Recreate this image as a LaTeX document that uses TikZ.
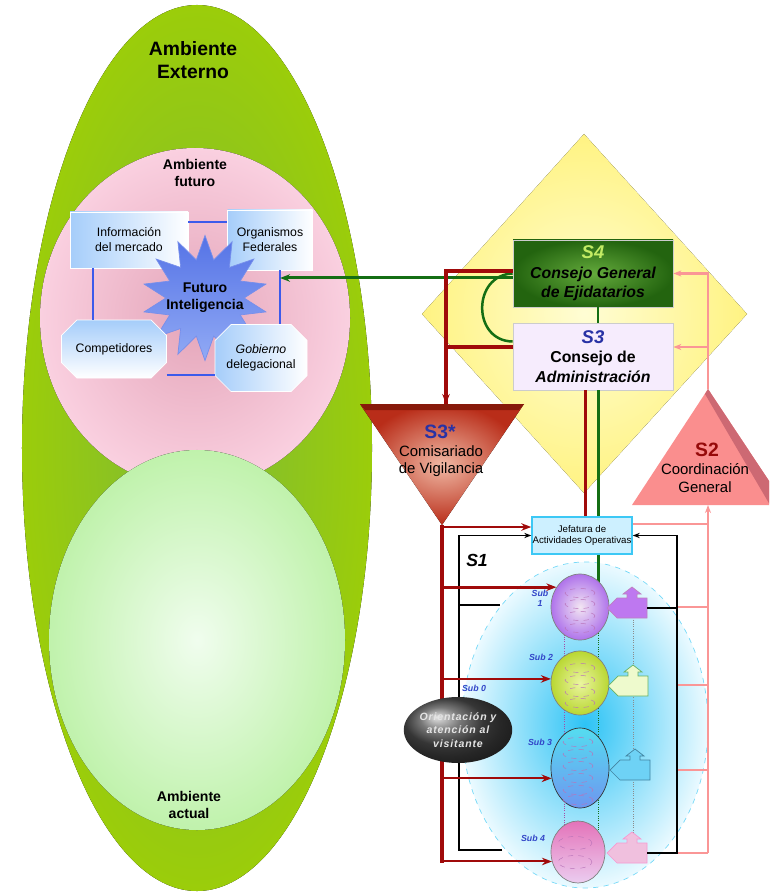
\documentclass[tikz,border=0pt]{standalone}
\usepackage{fontspec}
\setmainfont{Liberation Sans}
\usepackage{xcolor}
\usetikzlibrary{arrows.meta, positioning, shapes.geometric, shapes.misc, calc}

\definecolor{eggouter}{RGB}{155,205,10}
\definecolor{egginner}{RGB}{125,185,55}
\definecolor{futpink}{RGB}{250,208,224}
\definecolor{futrose}{RGB}{228,165,185}
\definecolor{actgreen}{RGB}{192,242,172}
\definecolor{actlight}{RGB}{240,253,238}
\definecolor{boxblue}{RGB}{165,205,250}
\definecolor{starblue}{RGB}{85,115,230}
\definecolor{starlight}{RGB}{145,170,245}
\definecolor{linkblue}{RGB}{60,90,235}
\definecolor{diayellow}{RGB}{255,243,130}
\definecolor{dialight}{RGB}{255,253,212}
\definecolor{sfourdark}{RGB}{35,100,15}
\definecolor{sfourlight}{RGB}{100,170,60}
\definecolor{sfourlabel}{RGB}{195,235,100}
\definecolor{sthreelav}{RGB}{208,140,242}
\definecolor{sthreelight}{RGB}{246,236,253}
\definecolor{sysblue}{RGB}{40,50,165}
\definecolor{redline}{RGB}{160,10,10}
\definecolor{greenline}{RGB}{20,110,20}
\definecolor{pinkline}{RGB}{250,150,150}
\definecolor{comred}{RGB}{185,45,25}
\definecolor{comlight}{RGB}{240,185,165}
\definecolor{comtop}{RGB}{135,25,10}
\definecolor{coordpink}{RGB}{250,142,142}
\definecolor{coorddark}{RGB}{205,105,115}
\definecolor{coordred}{RGB}{150,10,10}
\definecolor{jefcyan}{RGB}{205,240,255}
\definecolor{jefborder}{RGB}{60,200,245}
\definecolor{opcyan}{RGB}{45,195,245}
\definecolor{oplight}{RGB}{235,250,255}
\definecolor{subblue}{RGB}{50,70,200}

\begin{document}
\begin{tikzpicture}[
  x=0.2mm, y=-0.2mm,
  envtitle/.style={font=\bfseries\fontsize{11}{13}\selectfont, align=center},
  envlabel/.style={font=\bfseries\fontsize{8}{9.5}\selectfont, align=center},
  envbox/.style={left color=boxblue, right color=white, draw=white, inner sep=1pt, align=center, font=\fontsize{7}{8.5}\selectfont},
  envcut/.style={envbox, chamfered rectangle, chamfered rectangle xsep=1.6mm, chamfered rectangle ysep=1.6mm},
  bluelink/.style={draw=linkblue, line width=0.45mm},
  sysbox/.style={draw=black!20, minimum width=32mm, minimum height=13.4mm, inner sep=1pt, align=center, font=\bfseries\fontsize{9}{11}\selectfont},
  systext/.style={align=center, font=\fontsize{8.5}{10}\selectfont},
  sysname/.style={font=\bfseries\fontsize{11}{13}\selectfont},
  redthick/.style={draw=redline, line width=0.8mm},
  redarrow/.style={draw=redline, line width=0.55mm, -{Stealth[length=2mm]}},
  greenarrow/.style={draw=greenline, line width=0.6mm, -{Stealth[length=2mm]}},
  pinkarrow/.style={draw=pinkline, line width=0.5mm, -{Stealth[length=1.6mm]}},
  pinkline/.style={draw=pinkline, line width=0.5mm},
  blkarrow/.style={draw=black, line width=0.3mm, -{Stealth[length=1.4mm]}},
  subunit/.style={ellipse, draw=black!50, minimum width=11.6mm, inner sep=0pt, shading=radial},
  sublabel/.style={text=subblue, align=center, inner sep=0pt, font=\bfseries\itshape\fontsize{5}{5.5}\selectfont},
  slot/.style={draw=violet!55, dashed, line width=0.25pt},
  thread/.style={line width=0.3pt, densely dotted},
  outbox/.pic={
    \path[pic actions] (0,0) -- ++(10,-10) -- ++(10,0) -- ++(0,-4) -- ++(-4,0) -- ++(9,-7)
      -- ++(9,7) -- ++(-4,0) -- ++(0,4) -- ++(10,0) -- ++(0,20) -- ++(-30,0) -- cycle;
    \coordinate (-east) at (40,0);
  }
]
  \clip (0,0) rectangle (769,892);

  % environment
  \fill[inner color=egginner, outer color=eggouter] (197,448) ellipse [x radius=35mm, y radius=88.6mm];
  \fill[inner color=futrose, outer color=futpink] (195,318) ellipse [x radius=31mm, y radius=34mm];
  \fill[inner color=actlight, outer color=actgreen] (197,640) ellipse [x radius=29.6mm, y radius=38mm];
  \node[envtitle] (extitle) at (193,60) {Ambiente\\Externo};
  \node[envlabel] (futitle) at (195,173) {Ambiente\\futuro};
  \node[envlabel] (actitle) at (189,805) {Ambiente\\actual};

  \node[envbox, minimum width=23.6mm, minimum height=11.2mm] (mercado) at (129,240) {Información\\del mercado};
  \node[envbox, minimum width=17mm, minimum height=12mm] (federal) at (270,240) {Organismos\\Federales};
  \node[star, star points=14, star point ratio=1.6, minimum size=25mm, inner sep=0pt,
        top color=starblue, bottom color=starlight, draw=starblue!80] (fstar) at (205,298) {};
  \node[align=center, font=\bfseries\fontsize{8}{9.5}\selectfont] (futint) at (fstar) {Futuro\\Inteligencia};
  \node[envcut, top color=boxblue, bottom color=white, minimum width=21mm, minimum height=11.6mm] (compet) at (114,349) {Competidores};
  \node[envcut, minimum width=18.4mm, minimum height=13.4mm] (gobierno) at (261,358) {\itshape Gobierno\\delegacional};

  \coordinate (futin) at (280,278);
  \draw[bluelink] (mercado.east |- 0,222) -- (federal.west |- 0,222);
  \draw[bluelink] (compet.east |- 0,375) -- (gobierno.west |- 0,375);
  \draw[bluelink] (93,268) -- (compet.north -| 93,0);
  \draw[bluelink] (federal.south -| futin) -- (gobierno.north -| futin);

  % metasystem
  \fill[inner color=dialight, outer color=diayellow] (584,134) -- (747,314) -- (584,493) -- (422,314) -- cycle;
  \node[ellipse, draw=jefborder!70, dashed, minimum width=49.2mm, minimum height=65.2mm,
        inner color=opcyan, outer color=oplight] (opera) at (585,725) {};

  \node[sysbox, inner color=sfourlight, outer color=sfourdark, font=\bfseries\itshape\fontsize{9}{11}\selectfont] (sfour) at (593,273.5)
    {{\color{sfourlabel}\fontsize{10.5}{12}\selectfont S4}\\Consejo General\\de Ejidatarios};
  \node[sysbox, top color=sthreelight, middle color=sthreelav, bottom color=sthreelight] (sthree) at (593,356.5)
    {{\color{sysblue}\itshape\fontsize{10.5}{12}\selectfont S3}\\Consejo de\\\itshape Administración};

  % S3* and S2 triangles
  \coordinate (comtopc) at (446,404);
  \coordinate (comapex) at (442,525);
  \fill[inner color=comlight, outer color=comred] (360,404) -- (524,404) -- (comapex) -- cycle;
  \fill[comtop] (360,404) -- (524,404) -- (519,410) -- (365,410) -- cycle;
  \node[sysname, text=sysblue] (comname) at (440,432) {S3*};
  \node[systext] (comtext) at (441,461) {Comisariado\\de Vigilancia};

  \coordinate (coordapex) at (708,389);
  \coordinate (coordbase) at (708,505);
  \fill[coordpink] (coordapex) -- (785,505) -- (632,505) -- cycle;
  \fill[coorddark] (coordapex) -- (785,505) -- (770,505) -- (705,394) -- cycle;
  \node[sysname, text=coordred] (coordname) at (707,450) {S2};
  \node[systext] (coordtext) at (705,478) {Coordinación\\General};

  \node[draw=jefborder, line width=0.3mm, fill=jefcyan, minimum width=20mm, minimum height=7.4mm, inner sep=0pt,
        align=center, font=\fontsize{5.5}{6.5}\selectfont] (jefatura) at (582,535.5) {Jefatura de\\Actividades Operativas};

  % channels
  \coordinate (redbot) at (442,863);
  \coordinate (redtap) at ([xshift=-1.6mm]sthree.south);
  \coordinate (greentap) at ([xshift=1mm]sthree.south);
  \draw[greenarrow] (sfour.west |- futin) -- (futin);
  \draw[draw=greenline, line width=0.5mm] (sfour.west) .. controls (472,275) and (472,341) .. ([yshift=3mm]sthree.west);
  \draw[redthick, -{Stealth[length=2mm]}] ([yshift=0.5mm]sfour.west) -| (comtopc);
  \draw[redthick] ([yshift=1.9mm]sthree.west) -| (comtopc);
  \draw[draw=greenline, line width=0.3mm] ([xshift=1mm]sfour.south) -- ([xshift=1mm]sthree.north);
  \draw[draw=redline, line width=0.6mm] (redtap) -- (redtap |- jefatura.north);
  \draw[draw=greenline, line width=0.6mm] (greentap) -- (greentap |- jefatura.north);

  \draw[pinkarrow] (coordapex) |- (sfour.east);
  \draw[pinkarrow] (coordapex) |- ([yshift=1.9mm]sthree.east);

  % operations
  \coordinate (pinkbot) at (708,853);
  \coordinate (jefpink) at ([yshift=2.3mm]jefatura.east);
  \coordinate (blkleft) at (459,850);
  \coordinate (blkend) at (502,850);
  \coordinate (blkmid) at (500,605);
  \coordinate (blkright) at (677,853);

  \draw[draw=greenline, line width=0.6mm] (greentap |- jefatura.south) -- (greentap |- 0,585);
  \draw[thread, draw=greenline] (greentap |- 0,585) -- (greentap |- 0,835);
  \draw[thread, draw=violet!70] (564,630) -- (564,830);
  \draw[thread, draw=black!45] (633,615) -- (633,840);

  \draw[pinkarrow] (pinkbot) -- (coordbase);
  \draw[pinkline] (jefpink) -- (jefpink -| pinkbot);
  \draw[pinkline] (blkright |- 0,607) -- (pinkbot |- 0,607);
  \draw[pinkline] (blkright |- 0,685) -- (pinkbot |- 0,685);
  \draw[pinkline] (blkright |- 0,770) -- (pinkbot |- 0,770);
  \draw[pinkline] (blkright) -- (pinkbot);

  \draw[redthick] (comapex) -- (redbot);
  \draw[redarrow] ([yshift=1.7mm]jefatura.west -| comapex) -- ([yshift=1.7mm]jefatura.west);

  \draw[blkarrow] (blkend) -- (blkleft) |- (jefatura.west);
  \draw[draw=black, line width=0.3mm] (blkmid) -- (blkmid -| blkleft);

  \node[subunit, minimum height=13.2mm, inner color=violet!10, outer color={rgb,255:red,175;green,115;blue,235}] (subone) at (580,607) {};
  \node[subunit, minimum height=12.8mm, inner color={rgb,255:red,235;green,245;blue,160}, outer color={rgb,255:red,185;green,215;blue,50}] (subtwo) at (580,683) {};
  \node[subunit, draw=black!80, minimum height=16mm, top color={rgb,255:red,85;green,220;blue,240}, bottom color={rgb,255:red,110;green,150;blue,240}] (subthree) at (580,768) {};
  \node[subunit, minimum width=10.8mm, minimum height=12.4mm, top color={rgb,255:red,228;green,115;blue,185}, bottom color={rgb,255:red,235;green,205;blue,240}] (subfour) at (578,852) {};

  \draw[slot] (580,593) ellipse [x radius=3mm, y radius=0.9mm];
  \draw[slot] (580,604) ellipse [x radius=3mm, y radius=0.9mm];
  \draw[slot] (580,616) ellipse [x radius=3mm, y radius=0.9mm];
  \draw[slot] (580,628) ellipse [x radius=3mm, y radius=0.9mm];
  \draw[slot] (580,668) ellipse [x radius=3mm, y radius=0.9mm];
  \draw[slot] (580,680) ellipse [x radius=3mm, y radius=0.9mm];
  \draw[slot] (580,692) ellipse [x radius=3mm, y radius=0.9mm];
  \draw[slot] (580,703) ellipse [x radius=3mm, y radius=0.9mm];
  \draw[slot] (578,742) ellipse [x radius=3mm, y radius=0.9mm];
  \draw[slot] (578,754) ellipse [x radius=3mm, y radius=0.9mm];
  \draw[slot] (578,766) ellipse [x radius=3mm, y radius=0.9mm];
  \draw[slot] (578,778) ellipse [x radius=3mm, y radius=0.9mm];
  \draw[slot] (578,790) ellipse [x radius=3mm, y radius=0.9mm];
  \draw[slot] (578,800) ellipse [x radius=3mm, y radius=0.9mm];
  \draw[slot] (575,843) ellipse [x radius=3.4mm, y radius=1.3mm];
  \draw[slot] (575,862) ellipse [x radius=3.4mm, y radius=1.3mm];

  \pic[fill={rgb,255:red,190;green,120;blue,240}, draw=violet!50] (outone) at (607,608) {outbox};
  \pic[fill={rgb,255:red,238;green,250;blue,205}, draw=green!50!black!60] (outtwo) at (608,686) {outbox};
  \pic[fill={rgb,255:red,110;green,210;blue,245}, draw=cyan!60!black] (outthree) at (610,770) {outbox};
  \pic[fill={rgb,255:red,240;green,192;blue,222}, draw=magenta!40] (outfour) at (607,853) {outbox};

  \draw[draw=black, line width=0.3mm] (outone-east) -- (outone-east -| blkright);
  \draw[blkarrow] (outfour-east) -- (blkright) |- (jefatura.east);

  \draw[redarrow] (redbot |- subone.140) -- (subone.140);
  \draw[redarrow] (redbot |- subtwo.172) -- (subtwo.172);
  \draw[redarrow, line width=0.4mm] (redbot |- subthree.200) -- (subthree.200);
  \draw[redarrow, line width=0.4mm] (redbot |- subfour.200) -- (subfour.200);

  \node[ellipse, minimum width=14.4mm, minimum height=13.2mm, inner sep=0pt, shading=ball, ball color=black!70,
        text=white!90!black, align=center, font=\bfseries\itshape\fontsize{6}{7.5}\selectfont\addfontfeature{LetterSpace=8}] (visita) at (458,730)
    {Orientación y\\atención al\\visitante};

  \node[font=\bfseries\itshape\fontsize{10}{12}\selectfont] (soneLabel) at (477,560) {S1};
  \node[sublabel] (subzero) at (474,688) {Sub 0};
  \node[sublabel] (suboneLabel) at (540,598) {Sub\\1};
  \node[sublabel] (subtwoLabel) at (541,657) {Sub 2};
  \node[sublabel] (subthreeLabel) at (540,742) {Sub 3};
  \node[sublabel] (subfourLabel) at (533,838) {Sub 4};
\end{tikzpicture}
\end{document}
